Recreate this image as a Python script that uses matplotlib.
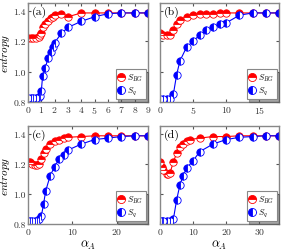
import matplotlib
matplotlib.use("Agg")
import matplotlib.pyplot as plt

plt.rcParams['font.family'] = 'cmr10'
plt.rcParams['mathtext.fontset'] = 'cm'
plt.rcParams['axes.formatter.use_mathtext'] = True

# panel (a)
xa = [0, 0.2, 0.4, 0.6, 0.8, 0.9, 1.0, 1.1, 1.3, 1.5, 1.7, 1.9, 2.0, 2.5, 3, 4, 5, 6, 7, 8, 9]
bg_a = [1.22, 1.22, 1.22, 1.22, 1.23, 1.24, 1.25, 1.29, 1.31, 1.33, 1.35, 1.36, 1.37, 1.38, 1.36, 1.385, 1.385, 1.385, 1.385, 1.385, 1.385]
q_a = [0.825, 0.825, 0.825, 0.825, 0.83, 0.84, 0.87, 0.97, 1.02, 1.09, 1.13, 1.16, 1.19, 1.25, 1.29, 1.33, 1.36, 1.38, 1.385, 1.385, 1.385]

# panel (b)
xb = [0, 0.5, 1, 1.5, 2, 2.5, 3, 4, 5, 6, 7, 8, 9, 10, 12, 14, 16, 18]
bg_b = [1.25, 1.24, 1.24, 1.24, 1.27, 1.31, 1.34, 1.36, 1.37, 1.375, 1.38, 1.38, 1.385, 1.385, 1.385, 1.385, 1.385, 1.385]
q_b = [0.82, 0.82, 0.82, 0.82, 0.85, 0.98, 1.07, 1.16, 1.20, 1.24, 1.27, 1.29, 1.31, 1.32, 1.37, 1.385, 1.385, 1.385]

# panel (c)
xc = [0, 0.5, 1, 1.5, 2, 2.5, 3, 3.5, 4, 5, 6, 7, 8, 9, 12, 15, 18, 21, 24, 27]
bg_c = [1.21, 1.21, 1.2, 1.19, 1.19, 1.20, 1.23, 1.27, 1.30, 1.33, 1.35, 1.36, 1.37, 1.375, 1.38, 1.385, 1.385, 1.385, 1.385, 1.385]
q_c = [0.82, 0.82, 0.82, 0.82, 0.82, 0.83, 0.85, 0.93, 1.02, 1.12, 1.18, 1.23, 1.26, 1.29, 1.33, 1.36, 1.37, 1.38, 1.385, 1.385]

# panel (d)
xd = [0, 0.5, 1, 2, 2.5, 3, 4, 5, 6, 7, 8, 9, 12, 16, 20, 24, 28, 32, 36]
bg_d = [1.21, 1.18, 1.16, 1.13, 1.13, 1.14, 1.21, 1.27, 1.31, 1.33, 1.35, 1.36, 1.37, 1.38, 1.38, 1.385, 1.385, 1.385, 1.385]
xdq = [0, 0.5, 1, 2, 3, 4, 5, 6, 7, 8, 10, 12, 16, 20, 24, 28, 32, 36]
q_d = [0.82, 0.82, 0.82, 0.82, 0.82, 0.83, 0.96, 1.06, 1.12, 1.17, 1.22, 1.28, 1.33, 1.36, 1.375, 1.38, 1.385, 1.385]

panels = [
    ("(a)", xa, bg_a, xa, q_a, 9, [0, 1, 2, 3, 4, 5, 6, 7, 8, 9]),
    ("(b)", xb, bg_b, xb, q_b, 18, [0, 5, 10, 15]),
    ("(c)", xc, bg_c, xc, q_c, 27, [0, 10, 20]),
    ("(d)", xd, bg_d, xdq, q_d, 36, [0, 10, 20, 30]),
]

rects = [
    [0.097, 0.593, 0.417, 0.391],
    [0.556, 0.593, 0.413, 0.391],
    [0.097, 0.111, 0.417, 0.387],
    [0.556, 0.111, 0.413, 0.387],
]

fig = plt.figure(figsize=(2.88, 2.53), dpi=100)
for i, (lab, x1, y1, x2, y2, xmax, xt) in enumerate(panels):
    ax = fig.add_axes(rects[i])
    ax.plot(x1, y1, color='red', lw=0.8, marker='o', ms=5.3, fillstyle='top',
            markerfacecoloralt='white', mec='red', mew=0.6, label=r'$S_{BG}$')
    ax.plot(x2, y2, color='blue', lw=0.8, marker='o', ms=5.3, fillstyle='left',
            markerfacecoloralt='white', mec='blue', mew=0.6, label=r'$S_q$')
    ax.set_xlim(0, xmax)
    ax.set_ylim(0.8, 1.45)
    ax.set_xticks(xt)
    ax.set_yticks([0.8, 1.0, 1.2, 1.4])
    ax.set_yticklabels(['0.8', '1.0', '1.2', '1.4'])
    ax.tick_params(labelsize=7, direction='in', length=2, pad=1.5, colors='#555555',
                   labelcolor='#333333', top=True, right=True)
    for s in ax.spines.values():
        s.set_color('#888888')
        s.set_linewidth(1.0)
    if i % 2 == 1:
        ax.set_yticklabels([])
    else:
        ax.set_ylabel(r'$entropy$', fontsize=8)
        ax.yaxis.set_label_coords(-0.13, 0.5)
    if i >= 2:
        ax.set_xlabel(r'$\alpha_A$', fontsize=9, labelpad=1)
    ax.text(0.03, 0.97, lab, transform=ax.transAxes, ha='left', va='top', fontsize=8.5)
    leg = ax.legend(loc='lower right', fontsize=6, handlelength=0.8, handletextpad=0.3,
                    borderpad=0.3, labelspacing=0.2, borderaxespad=0.3, fancybox=False,
                    shadow=True, markerscale=1.1, framealpha=1)
    leg.get_frame().set_edgecolor('#888888')
    leg.get_frame().set_linewidth(0.8)

fig.savefig("out.png", dpi=100)
